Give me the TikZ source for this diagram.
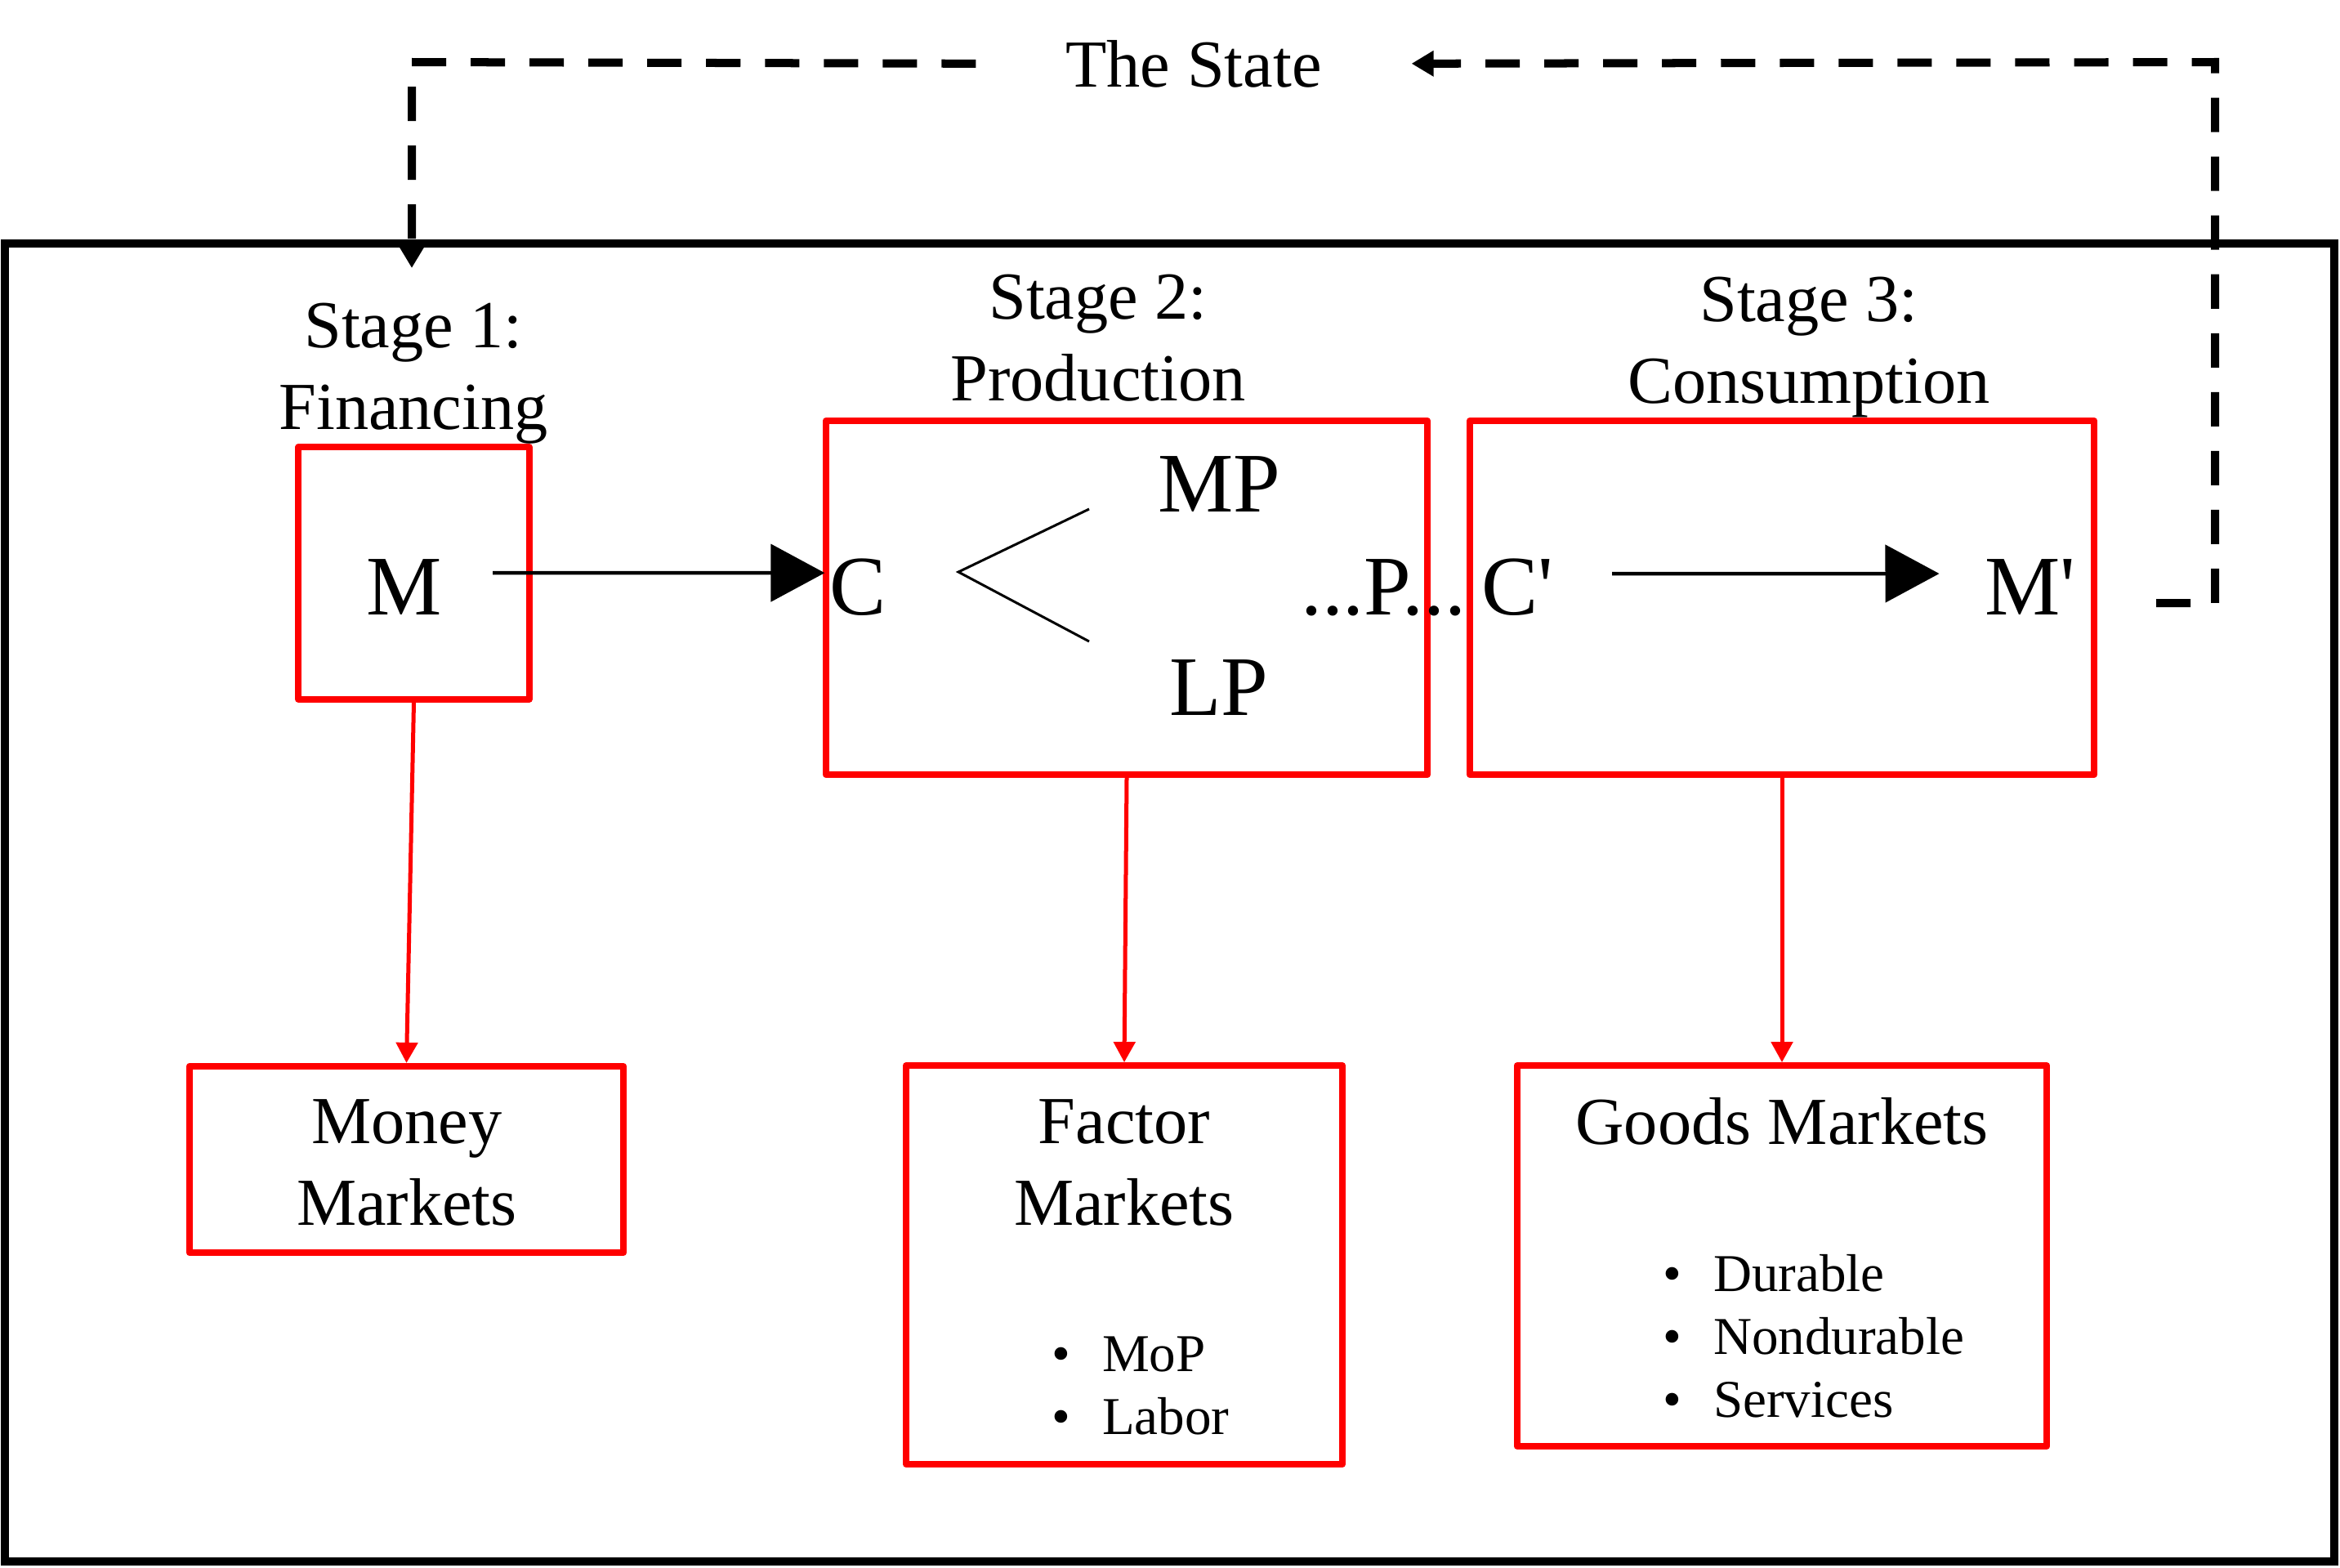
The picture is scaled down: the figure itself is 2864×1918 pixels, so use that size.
\documentclass[tikz,border=0pt]{standalone}
\usepackage{fontspec}
\setmainfont{Liberation Serif}
\usetikzlibrary{arrows.meta}
\newcommand{\lbul}{\makebox[0.62cm][l]{\textbullet}}
\begin{document}
\begin{tikzpicture}[x=0.01cm,y=-0.01cm,
  every node/.style={inner sep=0pt, outer sep=0pt},
  frame/.style={draw=black, line width=0.1cm},
  redbox/.style={draw=red, line width=0.08cm, line join=round, outer sep=0.04cm},
  bigtxt/.style={font=\fontsize{23.4pt}{28.4pt}\selectfont, align=center},
  formula/.style={font=\fontsize{29.5pt}{35pt}\selectfont},
  listtxt/.style={font=\fontsize{18.5pt}{21.8pt}\selectfont, align=left},
  statedash/.style={draw=black, line width=0.1cm, dash pattern=on 0.42cm off 0.30cm},
  statetip/.style={-{Triangle[length=0.27cm,width=0.3cm]}},
  flow/.style={draw=black, line width=0.045cm, -{Triangle[length=0.66cm,width=0.70cm]}},
  vee/.style={draw=black, line width=0.03cm},
  redarrow/.style={draw=red, line width=0.05cm, -{Triangle[length=0.25cm,width=0.26cm]}},
]
\useasboundingbox (0,0) rectangle (2864,1918);
\fill[white] (0,0) rectangle (2864,1918);

% outer frame
\draw[frame] (6,298) rectangle (2857,1911);

% red boxes
\node[redbox, minimum width=2.82cm, minimum height=3.08cm] (mbox) at (506.5,701.5) {};
\node[redbox, minimum width=7.36cm, minimum height=4.33cm] (pbox) at (1379,731.5) {};
\node[redbox, minimum width=7.64cm, minimum height=4.33cm] (cbox) at (2181,731.5) {};
\node[redbox, minimum width=5.31cm, minimum height=2.28cm] (money) at (497.5,1419) {};
\node[redbox, minimum width=5.34cm, minimum height=4.875cm] (factor) at (1376,1548) {};
\node[redbox, minimum width=6.48cm, minimum height=4.655cm] (goods) at (2181,1537) {};

% stage titles
\node[bigtxt, anchor=north] (stage1) at (506,371.5) {Stage 1:\\Financing};
\node[bigtxt, anchor=north] (stage2) at (1344,336) {Stage 2:\\Production};
\node[bigtxt, anchor=north] (stage3) at (2214,339) {Stage 3:\\Consumption};

% market texts
\node[bigtxt, anchor=north] (moneytitle) at (498,1346) {Money\\Markets};
\node[bigtxt, anchor=north] (factortitle) at (1376,1346) {Factor\\Markets};
\node[bigtxt, anchor=base] (goodstitle) at (2181,1400) {Goods Markets};
\node[listtxt, anchor=north west] (factorlist) at (1287,1636) {\lbul MoP\\\lbul Labor};
\node[listtxt, anchor=north west] (goodslist) at (2035,1535.6) {\lbul Durable\\\lbul Nondurable\\\lbul Services};

% circuit formula
\node[formula, anchor=base] (mtext) at (495,752) {M};
\node[formula, anchor=base] (ctext) at (1050,752) {C};
\node[formula, anchor=base] (mptext) at (1492,626) {MP};
\node[formula, anchor=base] (lptext) at (1492,875) {LP};
\node[formula, anchor=base] (ptext) at (1693,752) {...P...};
\node[formula, anchor=base] (cprime) at (1857,752) {C\textquotesingle};
\node[formula, anchor=base] (mprime) at (2485,752) {M\textquotesingle};

\draw[vee] (1333,623) -- (1173,700) -- (1333,785);

\draw[flow, shorten <=0.62cm, shorten >=0.06cm] ([yshift=0.17cm]mtext.east) -- ([yshift=0.17cm]ctext.west);
\draw[flow, shorten <=0.72cm, shorten >=0.56cm] ([yshift=0.16cm]cprime.east) -- ([yshift=0.16cm]mprime.west);

% red connectors
\draw[redarrow] (mbox.south) -- (money.north);
\draw[redarrow] (pbox.south) -- (factor.north);
\draw[redarrow] (cbox.south) -- (goods.north);

% the state
\node[bigtxt, anchor=base, inner xsep=1.1cm] (state) at (1461,106) {The State};
\coordinate (back) at (2639,738);
\draw[statedash, statetip] (back) -- (2711,738) -- (2711,76) -- (state.east);
\draw[statedash, statetip] (state.west) -- (504,76) -- (504,328);
\end{tikzpicture}
\end{document}
